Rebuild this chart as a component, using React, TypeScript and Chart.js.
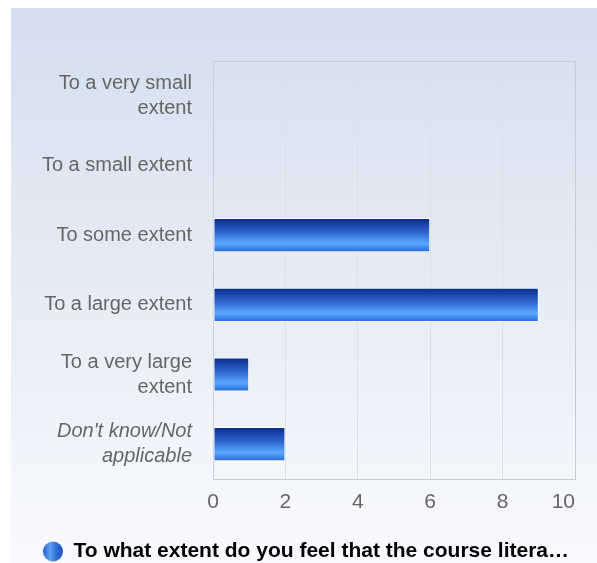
import React, { useEffect, useRef } from "react";
import { Chart, registerables } from "chart.js";

Chart.register(...registerables);

const categories: string[][] = [
  ["To a very small", "extent"],
  ["To a small extent"],
  ["To some extent"],
  ["To a large extent"],
  ["To a very large", "extent"],
  ["Don't know/Not", "applicable"],
];
const values: number[] = [0, 0, 6, 9, 1, 2];
const seriesLabel = "To what extent do you feel that the course litera…";
const xTicks: number[] = [0, 2, 4, 6, 8, 10];
const italicIndex = 5;

const W = 597;
const H = 563;

const bgPlugin = {
  id: "panelBg",
  beforeDraw(chart: any) {
    const { ctx, width, height } = chart;
    ctx.save();
    ctx.fillStyle = "#ffffff";
    ctx.fillRect(0, 0, width, height);
    const g = ctx.createLinearGradient(0, 8, 0, height);
    g.addColorStop(0, "#d3dff0");
    g.addColorStop(0.5, "#e6ecf5");
    g.addColorStop(1, "#f9fafd");
    ctx.fillStyle = g;
    ctx.fillRect(11, 8, width - 11, height - 8);
    ctx.restore();
  },
  beforeDatasetsDraw(chart: any) {
    const { ctx, chartArea } = chart;
    ctx.save();
    ctx.strokeStyle = "#c9ccd3";
    ctx.lineWidth = 1;
    ctx.beginPath();
    ctx.moveTo(chartArea.left, chartArea.top + 0.5);
    ctx.lineTo(chartArea.right + 0.5, chartArea.top + 0.5);
    ctx.lineTo(chartArea.right + 0.5, chartArea.bottom);
    ctx.stroke();
    ctx.restore();
  },
};

const legendShift = {
  id: "legendShift",
  afterLayout(chart: any) {
    if (chart.legend) {
      chart.legend.left += 13;
      chart.legend.right += 13;
    }
  },
};

function barGradient(ctx: any) {
  const chart = ctx.chart;
  const yScale = chart.scales?.y;
  if (!yScale || ctx.type !== "data") return "#2a6ad8";
  const yc = yScale.getPixelForValue(ctx.dataIndex);
  const h = (yScale.height / categories.length) * 0.49;
  const g = chart.ctx.createLinearGradient(0, yc - h / 2, 0, yc + h / 2);
  g.addColorStop(0, "#0a2a88");
  g.addColorStop(0.4, "#2c62cc");
  g.addColorStop(0.75, "#5aa8ff");
  g.addColorStop(1, "#2266d6");
  return g;
}

export default function App() {
  const ref = useRef<HTMLCanvasElement>(null);
  useEffect(() => {
    if (!ref.current) return;
    const chart = new Chart(ref.current, {
      type: "bar",
      data: {
        labels: categories,
        datasets: [
          {
            label: seriesLabel,
            data: values,
            backgroundColor: barGradient as any,
            borderColor: "#ffffff",
            borderWidth: 1,
            borderSkipped: false,
            categoryPercentage: 1,
            barPercentage: 0.49,
          },
        ],
      },
      options: {
        indexAxis: "y",
        animation: false,
        responsive: false,
        layout: { padding: { top: 61, left: 11, right: 22, bottom: -9 } },
        scales: {
          x: {
            min: 0,
            max: 10,
            afterBuildTicks: (scale: any) => {
              scale.ticks = xTicks.map((v) => ({ value: v }));
            },
            afterFit: (scale: any) => {
              scale.height = 61;
              scale.paddingLeft = 0;
              scale.paddingRight = 0;
            },
            grid: { color: "#dcdfe6", drawTicks: false, lineWidth: 1 },
            border: { color: "#c9ccd3" },
            ticks: {
              padding: 11,
              color: "#666666",
              font: { family: "Liberation Sans, Arial, sans-serif", size: 21 },
              callback: (v: any) => (Number(v) === 10 ? "10    " : String(v)),
            },
          },
          y: {
            afterFit: (scale: any) => {
              scale.width = 202;
            },
            grid: { display: false, drawTicks: false },
            border: { color: "#c5cfe0", width: 1 },
            ticks: {
              padding: 21,
              color: "#666666",
              font: (c: any) => ({
                family: "Liberation Sans, Arial, sans-serif",
                size: 20,
                style: c.index === italicIndex ? "italic" : "normal",
                lineHeight: 1.25,
              }),
            },
          },
        },
        plugins: {
          legend: {
            position: "bottom",
            labels: {
              usePointStyle: true,
              pointStyle: "circle",
              boxHeight: 14,
              pointStyleWidth: 20,
              padding: 1,
              color: "#333333",
              font: { family: "Liberation Sans, Arial, sans-serif", size: 21, weight: "bold" },
              generateLabels: (ch: any) => {
                const c = ch.ctx;
                const g = c.createLinearGradient(44, 0, 64, 0);
                g.addColorStop(0, "#2a66d4");
                g.addColorStop(0.3, "#5ea4f2");
                g.addColorStop(0.65, "#2e6ad6");
                g.addColorStop(1, "#1a48b8");
                return [
                  {
                    text: seriesLabel,
                    fillStyle: g,
                    strokeStyle: "#1c4fb0",
                    lineWidth: 0,
                    pointStyle: "circle",
                    datasetIndex: 0,
                    hidden: false,
                  },
                ];
              },
            },
          },
          tooltip: { enabled: false },
        },
      },
      plugins: [bgPlugin, legendShift],
    });
    return () => chart.destroy();
  }, []);
  return (
    <div style={{ position: "fixed", left: 0, top: 0, width: W, height: H }}>
      <canvas ref={ref} width={W} height={H} style={{ display: "block" }} />
    </div>
  );
}
